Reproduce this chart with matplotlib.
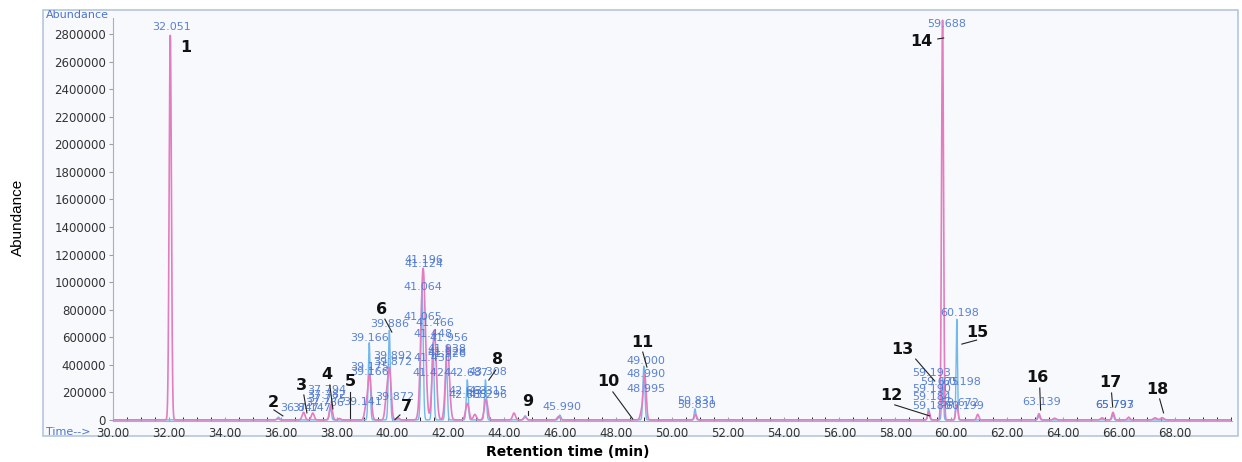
import numpy as np
import matplotlib.pyplot as plt
from matplotlib.patches import Rectangle
from matplotlib.ticker import MultipleLocator, FormatStrFormatter

# peaks of the pink trace: retention time (min), abundance
pink_rt = [32.05, 35.90, 36.82, 37.15, 37.80, 38.10, 39.05, 39.18, 39.78, 39.89,
           40.20, 41.10, 41.50, 41.97, 42.68, 42.95, 43.35, 44.35, 44.75, 45.95,
           48.92, 49.03, 50.85, 59.20, 59.69, 60.20, 60.95, 63.14, 63.70, 65.40,
           65.79, 66.35, 67.30, 67.55]
pink_ab = [2790000, 8000, 55000, 50000, 110000, 10000, 90000, 330000, 130000, 370000,
           15000, 1100000, 650000, 540000, 120000, 40000, 150000, 50000, 20000, 25000,
           60000, 330000, 40000, 60000, 2900000, 110000, 40000, 45000, 12000, 15000,
           55000, 20000, 15000, 15000]
pink_w = [0.04, 0.05, 0.05, 0.05, 0.05, 0.05, 0.05, 0.06, 0.05, 0.06,
          0.05, 0.08, 0.07, 0.07, 0.06, 0.05, 0.06, 0.05, 0.05, 0.05,
          0.05, 0.05, 0.04, 0.04, 0.035, 0.04, 0.04, 0.04, 0.05, 0.05,
          0.04, 0.04, 0.06, 0.06]

# peaks of the blue trace
blue_rt = [35.92, 37.78, 39.17, 39.89, 41.06, 41.45, 41.93, 42.68, 43.33, 44.75,
           45.99, 49.00, 50.83, 59.19, 59.69, 60.20, 63.14, 65.79]
blue_ab = [20000, 90000, 560000, 650000, 950000, 560000, 430000, 290000, 290000, 30000,
           35000, 390000, 80000, 80000, 300000, 730000, 30000, 40000]
blue_w = [0.04, 0.035, 0.035, 0.035, 0.04, 0.035, 0.035, 0.035, 0.035, 0.04,
          0.04, 0.035, 0.03, 0.03, 0.03, 0.025, 0.03, 0.03]

# retention time labels: text, x (min), y (abundance)
rt_text = ["32.051", "59.688", "36.847", "37.147", "37.794", "37.782", "37.775", "37.766",
           "39.141", "39.175", "39.166", "39.166", "39.886", "39.892", "39.872", "39.872",
           "41.196", "41.124", "41.064", "41.065", "41.466", "41.448", "41.956", "41.938",
           "41.928", "41.926", "41.430", "41.424", "42.687", "43.308", "42.663", "42.685",
           "43.315", "43.296", "45.990", "49.000", "48.990", "48.995", "50.831", "50.830",
           "59.193", "59.675", "60.198", "59.190", "59.184", "59.672", "59.180", "60.199",
           "60.198", "63.139", "65.793", "65.797"]
rt_x = [32.08, 59.84, 36.69, 37.12, 37.66, 37.66, 37.66, 37.58,
        38.94, 39.19, 39.19, 39.19, 39.91, 40.02, 40.02, 40.09,
        41.13, 41.13, 41.09, 41.09, 41.52, 41.45, 42.02, 41.95,
        41.95, 41.95, 41.45, 41.41, 42.74, 43.42, 42.70, 42.70,
        43.42, 43.42, 46.06, 49.07, 49.07, 49.07, 50.89, 50.89,
        59.30, 59.59, 60.38, 59.30, 59.30, 60.30, 59.30, 60.48,
        60.30, 63.24, 65.85, 65.85]
rt_y = [2850000, 2872000, 87000, 87000, 217000, 181000, 152000, 123000,
        130000, 383000, 347000, 593000, 695000, 463000, 420000, 166000,
        1158000, 1129000, 962000, 745000, 702000, 622000, 593000, 514000,
        492000, 478000, 449000, 340000, 340000, 347000, 210000, 181000,
        210000, 181000, 94000, 427000, 333000, 224000, 137000, 109000,
        340000, 275000, 275000, 224000, 166000, 123000, 101000, 101000,
        774000, 130000, 109000, 109000]

# compound numbers and their leader lines
num_x = [32.61, 35.72, 36.76, 37.66, 38.48, 39.62, 40.52, 43.77, 44.85,
         47.71, 48.96, 57.87, 58.26, 58.94, 60.95, 63.09, 65.71, 67.39]
num_y = [2700000, 123000, 246000, 333000, 275000, 803000, 94000, 441000, 137000,
         275000, 564000, 174000, 514000, 2742000, 637000, 311000, 268000, 217000]
lead_x0 = [None, 35.76, 36.83, 37.76, 38.48, 39.73, 40.27, 43.70, 44.85,
           47.89, 48.96, 57.98, 58.73, 59.52, 60.38, 63.17, 65.74, 67.46]
lead_y0 = [None, 72000, 181000, 253000, 203000, 731000, 36000, 362000, 65000,
           203000, 492000, 109000, 441000, 2764000, 550000, 231000, 195000, 152000]
lead_x1 = [None, 36.08, 36.94, 37.87, 38.48, 39.98, 40.09, 43.45, 44.85,
           48.60, 49.11, 59.23, 59.41, 59.73, 60.91, 63.20, 65.78, 67.60]
lead_y1 = [None, 29000, 51000, 80000, 14000, 637000, 2000, 289000, 36000,
           7000, 383000, 29000, 282000, 2771000, 579000, 72000, 94000, 51000]

PINK = "#e47cc0"
BLUE = "#72b8ec"
LABEL_BLUE = "#4a74d0"


def trace(t, centers, heights, widths):
    y = np.zeros_like(t)
    for c, h, w in zip(centers, heights, widths):
        y += h * np.exp(-0.5 * ((t - c) / w) ** 2)
    return y


t = np.linspace(30, 70, 16000)

fig = plt.figure(figsize=(12.42, 4.62), dpi=100)
fig.patch.set_facecolor("white")

# outer panel frame like the instrument print-out
fig.patches.append(Rectangle((43 / 1242, 1 - 436 / 462), 1195 / 1242, 426 / 462,
                             transform=fig.transFigure, facecolor="#f7f9fd",
                             edgecolor="#b4c6dc", lw=1.2, zorder=-5))

ax = fig.add_axes([113 / 1242, 41 / 462, 1119 / 1242, 403 / 462])
ax.set_facecolor("none")
ax.set_zorder(2)

ax.plot(t, trace(t, blue_rt, blue_ab, blue_w), color=BLUE, lw=1.0, zorder=2)
ax.plot(t, trace(t, pink_rt, pink_ab, pink_w), color=PINK, lw=1.2, zorder=3)

for s, x, y in zip(rt_text, rt_x, rt_y):
    ax.text(x, y, s, color=LABEL_BLUE, fontsize=8, ha="center", va="center",
            alpha=0.9, zorder=4)

for i, (x, y) in enumerate(zip(num_x, num_y)):
    ax.text(x, y, str(i + 1), fontsize=11.5, fontweight="bold", color="#111111",
            ha="center", va="center", zorder=6)
    if lead_x0[i] is not None:
        ax.plot([lead_x0[i], lead_x1[i]], [lead_y0[i], lead_y1[i]],
                color="#222222", lw=0.8, zorder=5)

ax.set_xlim(30, 70.05)
ax.set_ylim(-8000, 2916000)
ax.xaxis.set_minor_locator(MultipleLocator(0.5))
ax.xaxis.set_major_formatter(FormatStrFormatter("%.2f"))
ax.set_xticks(np.arange(30, 69, 2))
ax.set_yticks(np.arange(0, 2800001, 200000))
ax.set_yticklabels([str(v) for v in range(0, 2800001, 200000)])

ax.tick_params(axis="both", labelsize=8.5, colors="#9aa0a8", labelcolor="#333333")
ax.tick_params(axis="x", which="both", direction="in", length=3, pad=4)
ax.tick_params(axis="y", direction="out", length=3, pad=2)
for side in ["top", "right"]:
    ax.spines[side].set_visible(False)
for side in ["left", "bottom"]:
    ax.spines[side].set_color("#a8b0ba")

fig.text(46 / 1242, 1 - 15 / 462, "Abundance", color=LABEL_BLUE, fontsize=8,
         ha="left", va="center")
fig.text(46 / 1242, 1 - 432 / 462, "Time-->", color=LABEL_BLUE, fontsize=8,
         ha="left", va="center")
fig.text(18 / 1242, 1 - 217 / 462, "Abundance", rotation=90, fontsize=11,
         family=["Liberation Sans Narrow", "Liberation Sans", "DejaVu Sans"],
         ha="center", va="center")
fig.text(568 / 1242, 1 - 452 / 462, "Retention time (min)", fontsize=10,
         fontweight="bold", ha="center", va="center")

fig.savefig("out.png", dpi=100)
